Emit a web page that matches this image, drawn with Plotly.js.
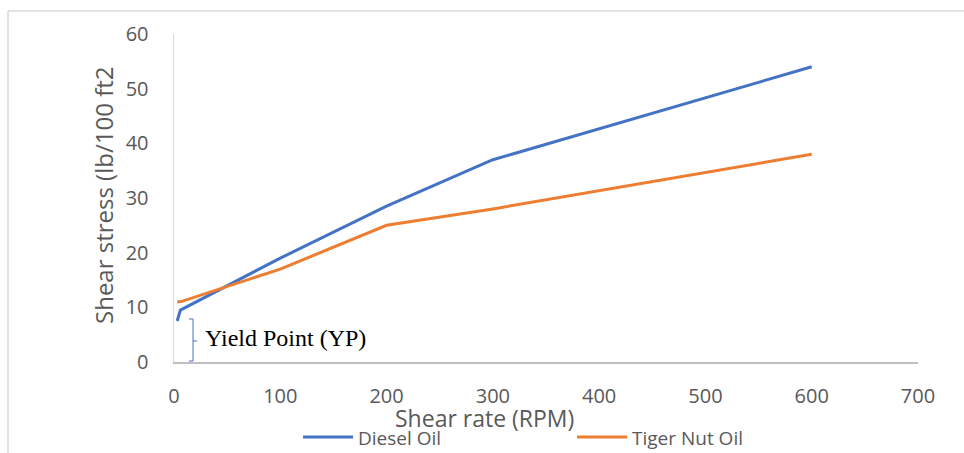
<!DOCTYPE html>
<html><head><meta charset="utf-8">
<script src="https://cdn.plot.ly/plotly-3.0.1.min.js"></script>
<style>html,body{margin:0;padding:0;background:#fff;}#chart{width:964px;height:453px;}</style>
</head><body><div id="chart"></div>
<script>
const shearRate = [3, 6, 100, 200, 300, 600];
const dieselOil = [7.5, 9.5, 19, 28.5, 37, 54];
const tigerNutOil = [11, 11, 17, 25, 28, 38];
const seriesNames = ['Diesel Oil', 'Tiger Nut Oil'];
const xTicks = [0, 100, 200, 300, 400, 500, 600, 700];
const yTicks = [0, 10, 20, 30, 40, 50, 60];
const colors = ['#4472C4', '#ED7D31'];

const W = 964, H = 453, L = 174, R = 46, T = 34, B = 91;
const pw = W - L - R, ph = H - T - B;
const px = v => (v - L) / pw;
const py = v => (H - B - v) / ph;

const traces = [
  {x: shearRate, y: dieselOil, name: seriesNames[0], mode: 'lines', line: {color: colors[0], width: 3}},
  {x: shearRate, y: tigerNutOil, name: seriesNames[1], mode: 'lines', line: {color: colors[1], width: 3}}
];

const sans = 'Open Sans, Liberation Sans, sans-serif';
const tickFont = {family: sans, size: 20, color: '#595959'};
const legendLeft = [303, 577];
const legendY = 437;

const shapes = [
  {type: 'line', xref: 'paper', yref: 'paper', x0: px(8), x1: px(964), y0: py(11), y1: py(11), line: {color: '#d9d9d9', width: 1.5}},
  {type: 'line', xref: 'paper', yref: 'paper', x0: px(8), x1: px(8), y0: py(11), y1: py(453), line: {color: '#d9d9d9', width: 1.5}},
  {type: 'path', xref: 'paper', yref: 'paper',
    path: `M ${px(189)},${py(319)} L ${px(193)},${py(319)} L ${px(193)},${py(361)} L ${px(189)},${py(361)} M ${px(193)},${py(341)} L ${px(197)},${py(341)}`,
    line: {color: '#4472C4', width: 1}}
];
const annotations = [
  {text: 'Shear stress (lb/100 ft2', xref: 'paper', yref: 'paper', x: px(103), y: py(195), textangle: -90,
    showarrow: false, xanchor: 'center', yanchor: 'middle', font: {family: sans, size: 24, color: '#595959'}},
  {text: 'Shear rate (RPM)', xref: 'paper', yref: 'paper', x: px(484), y: py(418), showarrow: false,
    xanchor: 'center', yanchor: 'middle', font: {family: sans, size: 23, color: '#595959'}},
  {text: 'Yield Point (YP)', xref: 'paper', yref: 'paper', x: px(203), y: py(338), showarrow: false,
    xanchor: 'left', yanchor: 'middle', font: {family: 'Liberation Serif, Times New Roman, serif', size: 24, color: '#000'}}
];
seriesNames.forEach((n, i) => {
  shapes.push({type: 'line', xref: 'paper', yref: 'paper', x0: px(legendLeft[i]), x1: px(legendLeft[i] + 50),
    y0: py(legendY), y1: py(legendY), line: {color: colors[i], width: 3}});
  annotations.push({text: n, xref: 'paper', yref: 'paper', x: px(legendLeft[i] + 53), y: py(legendY + 1),
    showarrow: false, xanchor: 'left', yanchor: 'middle', font: {family: sans, size: 19, color: '#595959'}});
});

const layout = {
  width: W, height: H,
  margin: {l: L, r: R, t: T, b: B},
  paper_bgcolor: '#fff', plot_bgcolor: '#fff',
  showlegend: false,
  xaxis: {range: [0, 700], tickvals: xTicks, ticktext: xTicks.map(String), showgrid: false, zeroline: false,
    showline: true, linecolor: '#bfbfbf', linewidth: 1.5, ticks: '', ticklabelstandoff: 15, tickfont: tickFont, fixedrange: true, automargin: false},
  yaxis: {range: [0, 60], tickvals: yTicks, ticktext: yTicks.map(String), showgrid: false, zeroline: false,
    showline: true, linecolor: '#d9d9d9', linewidth: 1.5, ticks: '', ticklabelstandoff: 20, tickfont: tickFont, fixedrange: true, automargin: false},
  shapes: shapes,
  annotations: annotations
};
Plotly.newPlot('chart', traces, layout, {displayModeBar: false, staticPlot: true});
</script></body></html>
